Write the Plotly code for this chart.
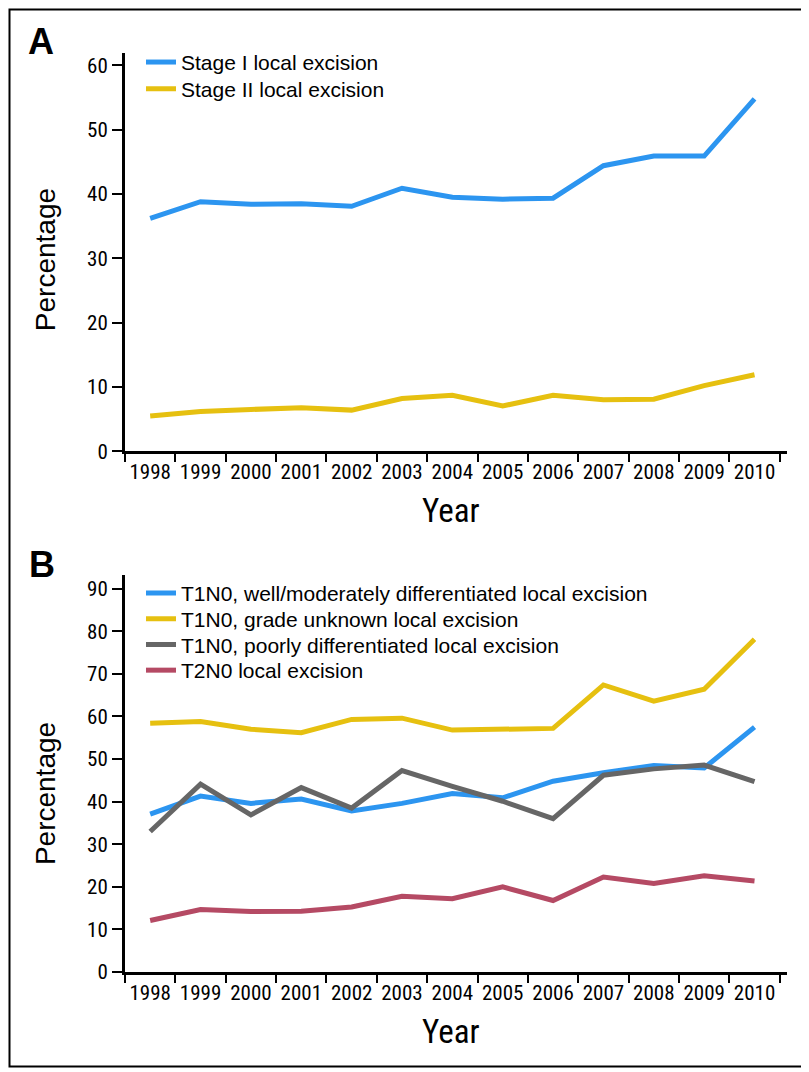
import plotly.graph_objects as go

W, H = 809, 1072

years = [str(y) for y in range(1998, 2011)]

# panel A
stage1 = [36.2, 38.8, 38.4, 38.5, 38.1, 40.9, 39.5, 39.2, 39.35, 44.4, 45.9, 45.9, 54.8]
stage2 = [5.5, 6.2, 6.5, 6.75, 6.4, 8.2, 8.7, 7.05, 8.7, 8.0, 8.1, 10.2, 11.9]

# panel B
t1_well = [37.1, 41.3, 39.6, 40.6, 37.8, 39.6, 41.9, 40.9, 44.8, 46.8, 48.5, 47.9, 57.5]
t1_unknown = [58.4, 58.8, 57.0, 56.2, 59.3, 59.6, 56.8, 57.1, 57.2, 67.4, 63.6, 66.4, 78.1]
t1_poor = [33.0, 44.1, 36.9, 43.3, 38.5, 47.3, 43.6, 40.1, 36.0, 46.2, 47.7, 48.6, 44.7]
t2 = [12.1, 14.7, 14.2, 14.3, 15.3, 17.8, 17.2, 20.0, 16.8, 22.3, 20.8, 22.6, 21.4]

BLUE = "#2c95f0"
YELLOW = "#e6c010"
GRAY = "#666666"
RED = "#b54a64"

NARROW = "Roboto Condensed, Liberation Sans Narrow, sans-serif"
SANS = "Liberation Sans, Arial, Helvetica, sans-serif"


def px(x):
    return x / W


def py(y):
    return 1 - y / H


fig = go.Figure()

lw = 5
# (values, name, colour, panel, legend row centre y)
series = [
    (stage1, "Stage I local excision", BLUE, 1, 55),
    (stage2, "Stage II local excision", YELLOW, 1, 82),
    (t1_well, "T1N0, well/moderately differentiated local excision", BLUE, 2, 592),
    (t1_unknown, "T1N0, grade unknown local excision", YELLOW, 2, 618),
    (t1_poor, "T1N0, poorly differentiated local excision", GRAY, 2, 644),
    (t2, "T2N0 local excision", RED, 2, 670),
]

legends = {}
for i, (vals, name, col, panel, ly) in enumerate(series):
    lg = "legend" if i == 0 else "legend%d" % (i + 1)
    fig.add_trace(go.Scatter(
        x=years, y=vals, mode="lines", name=name,
        line=dict(color=col, width=lw),
        xaxis="x" if panel == 1 else "x2", yaxis="y" if panel == 1 else "y2",
        legend=lg,
    ))
    legends[lg] = dict(x=px(133), y=py(ly), xanchor="left", yanchor="middle",
                       font=dict(family=SANS, size=21, color="black"),
                       bgcolor="rgba(0,0,0,0)", itemwidth=30)

xcommon = dict(
    type="category", tickson="boundaries", range=[-0.5, 12.645],
    domain=[px(117), px(779)], tickangle=0,
    showline=True, linecolor="black", linewidth=3,
    ticks="outside", ticklen=8, tickwidth=2, tickcolor="black",
    tickfont=dict(family=NARROW, size=21, color="black"),
    showgrid=False, zeroline=False, fixedrange=True,
)
ycommon = dict(
    showline=True, linecolor="black", linewidth=3,
    ticks="outside", ticklen=10, tickwidth=2, tickcolor="black",
    tickfont=dict(family=NARROW, size=21, color="black"),
    showgrid=False, zeroline=False, dtick=10,
)

fig.update_layout(
    width=W, height=H,
    margin=dict(l=0, r=0, t=0, b=0),
    paper_bgcolor="white", plot_bgcolor="white",
    xaxis=dict(xcommon, anchor="y"),
    yaxis=dict(ycommon, anchor="x", domain=[py(448.3), py(46)], range=[0, 61.85]),
    xaxis2=dict(xcommon, anchor="y2"),
    yaxis2=dict(ycommon, anchor="x2", domain=[py(975), py(573)], range=[0, 93.3]),
    showlegend=True,
    **legends,
)

annots = [
    dict(text="<b>A</b>", x=px(33), y=py(34), font=dict(family=SANS, size=36)),
    dict(text="<b>B</b>", x=px(34), y=py(563), font=dict(family=SANS, size=36)),
    dict(text="Percentage", x=px(37), y=py(255), textangle=-90, font=dict(family=SANS, size=28)),
    dict(text="Percentage", x=px(37), y=py(795), textangle=-90, font=dict(family=SANS, size=28)),
    dict(text="Year", x=px(443), y=py(508), font=dict(family=NARROW, size=33)),
    dict(text="Year", x=px(443), y=py(1035), font=dict(family=NARROW, size=33)),
]
for a in annots:
    a.update(xref="paper", yref="paper", showarrow=False, xanchor="center", yanchor="middle")
    a["font"]["color"] = "black"
fig.update_layout(annotations=annots)

fig.add_shape(type="rect", xref="paper", yref="paper", x0=px(1.5), x1=px(807.5), y0=py(1070.5), y1=py(1.5),
              line=dict(color="black", width=2))

fig.write_html("out.html")
